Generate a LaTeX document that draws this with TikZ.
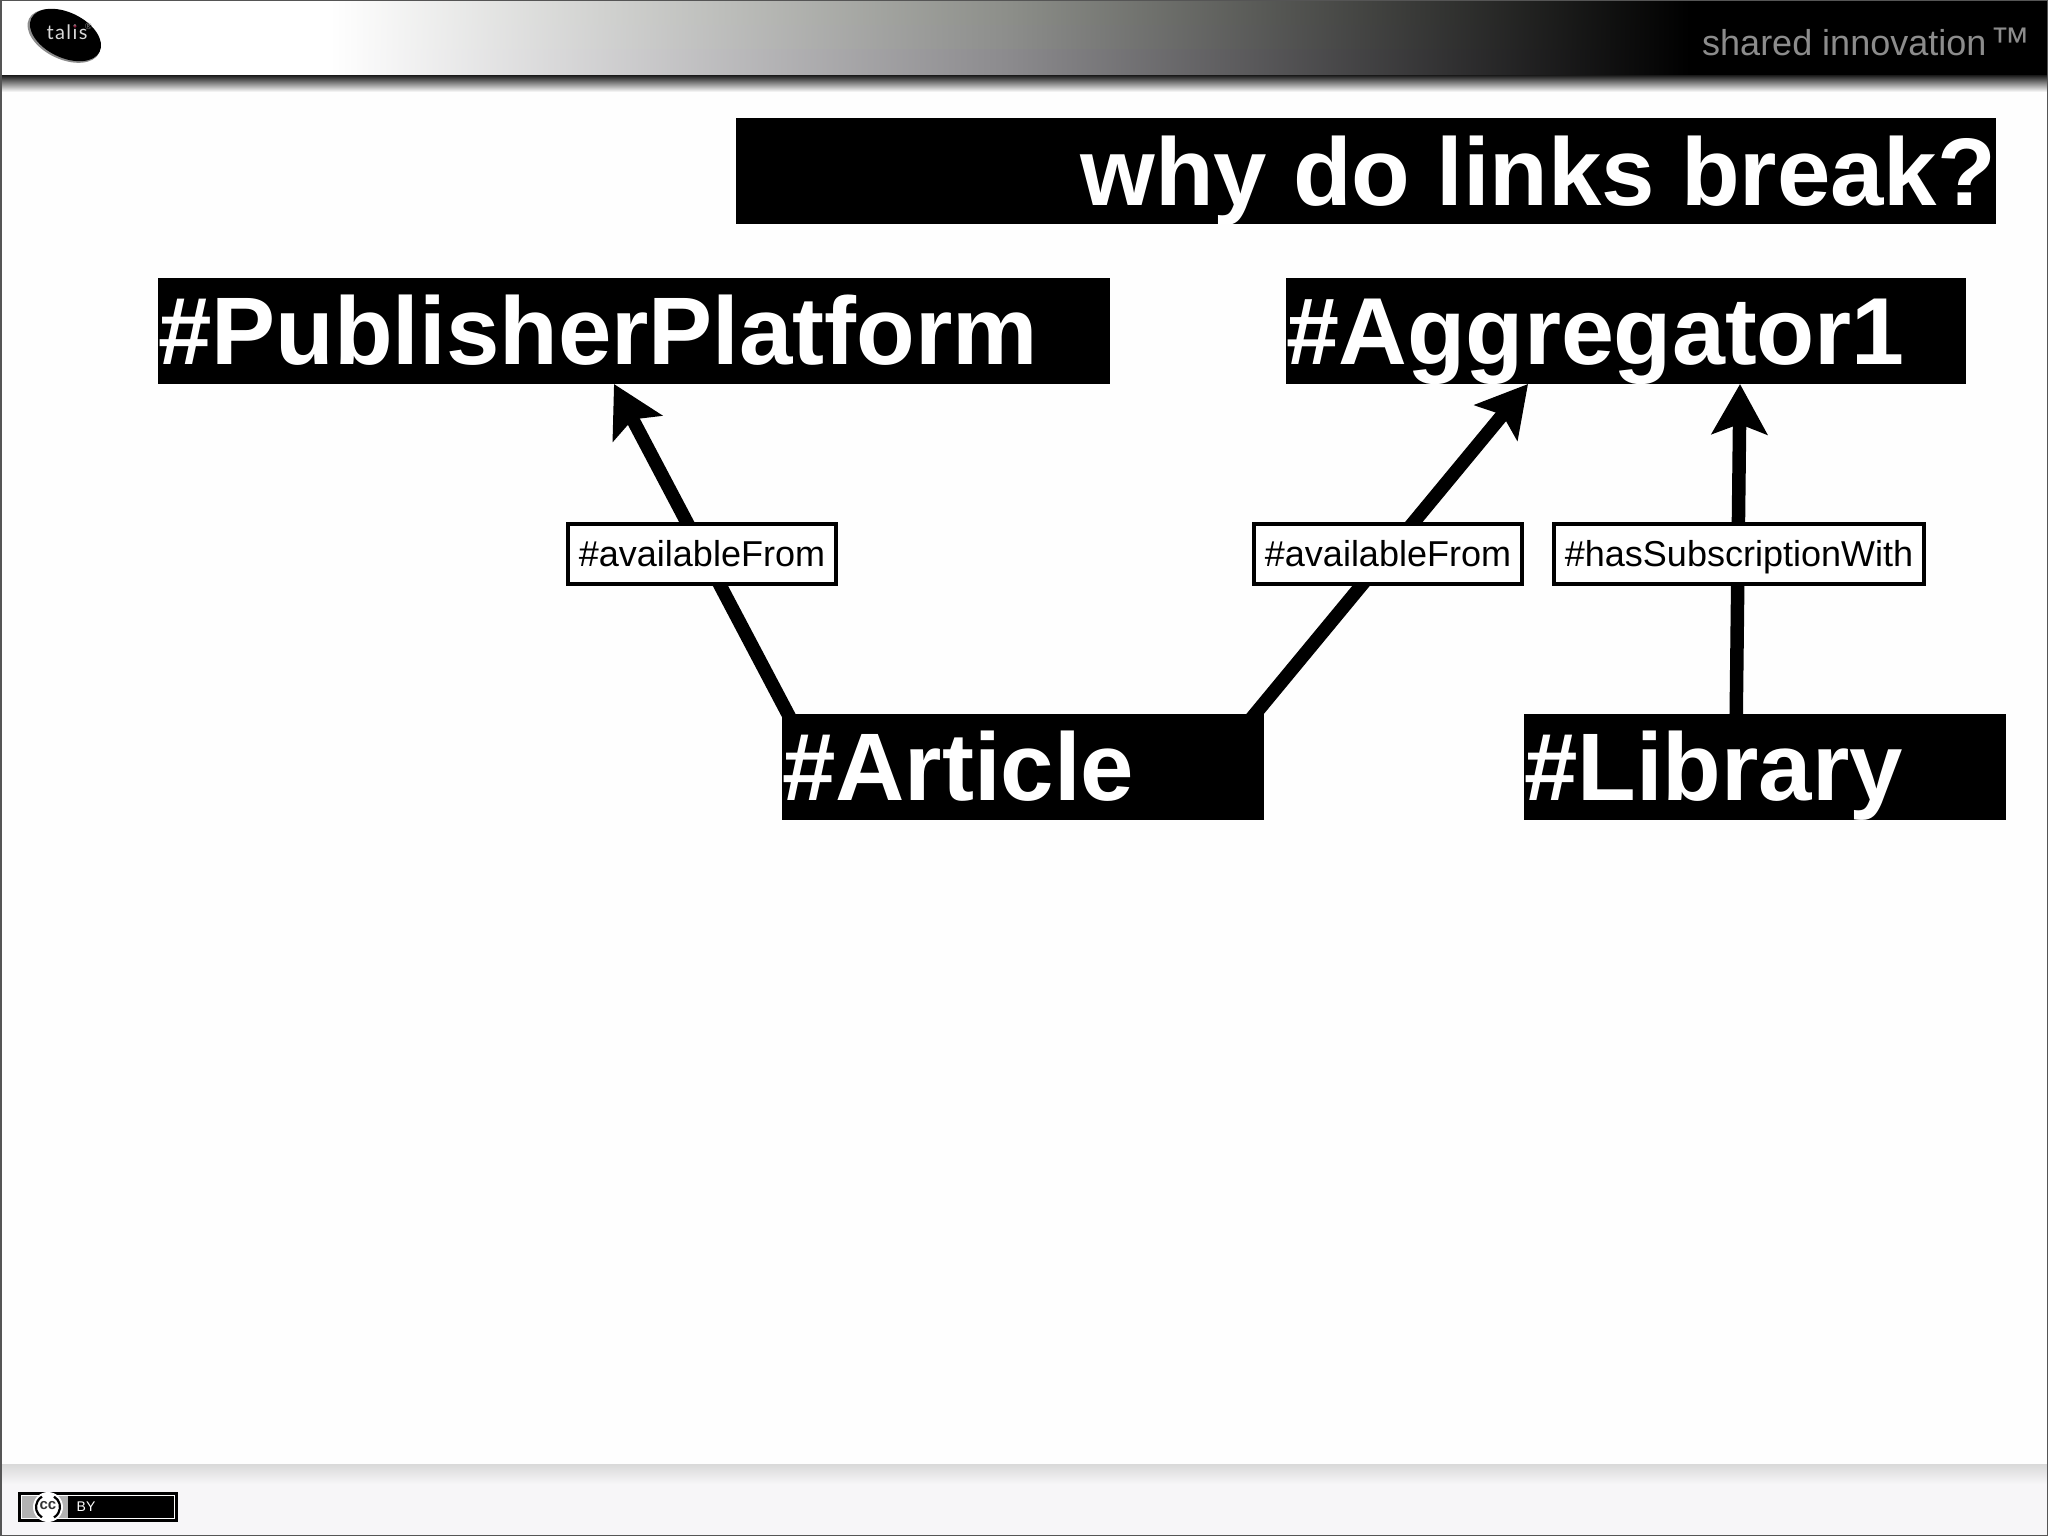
\documentclass[tikz,border=0pt]{standalone}
\usepackage{fontspec}
\setmainfont{Liberation Sans}
\newfontfamily\logofont[LetterSpace=7]{Lato}
\usetikzlibrary{arrows.meta,calc,shadings}
\definecolor{framegray}{HTML}{555555}
\definecolor{slogan}{HTML}{8C8C8C}
\definecolor{pagebg}{HTML}{FEFEFE}
\definecolor{footbg}{HTML}{F7F6F8}
\definecolor{midgreen}{HTML}{8C8E89}
\definecolor{midneutral}{HTML}{8C8D8B}
\definecolor{midviolet}{HTML}{8B8A8D}
\definecolor{idot}{HTML}{8A1C3C}
\pgfdeclarelayer{pagelayer}
\pgfdeclarelayer{linelayer}
\pgfsetlayers{pagelayer,linelayer,main}
\tikzset{
  x=1pt,y=-1pt,
  bar/.style={fill=black,text=white,font=\fontsize{96}{110}\selectfont\bfseries,
    inner xsep=0pt,inner ysep=0pt,outer sep=0pt,minimum height=106pt,
    text depth=4pt,text height=70pt,anchor=north west},
  tag/.style={draw=black,line width=3.6pt,fill=white,text=black,font=\fontsize{36}{42}\selectfont,
    minimum height=60.5pt,inner xsep=0pt,inner ysep=0pt,outer sep=0pt,text depth=6pt,text height=31pt},
  link/.style={line width=13.5pt,draw=black,-{Stealth[length=50pt,width=55pt,inset=10pt]}}
}
\begin{document}
\begin{tikzpicture}
\useasboundingbox (0,0) rectangle (2048,1536);
\begin{pgfonlayer}{pagelayer}
% page
\fill[pagebg] (0,0) rectangle (2048,1536);
% header
\fill[white] (0,0) rectangle (330,76);
\shade[left color=white,right color=black,middle color=midgreen] (330,0) rectangle (1690,26);
\shade[left color=white,right color=black,middle color=midneutral] (330,26) rectangle (1690,50);
\shade[left color=white,right color=black,middle color=midviolet] (330,50) rectangle (1690,76);
\fill[black] (1690,0) rectangle (2048,76);
\shade[top color=black!85,bottom color=white] (0,76) rectangle (2048,92);
% footer
\shade[top color=black!15,bottom color=footbg] (0,1464) rectangle (2048,1484);
\fill[footbg] (0,1484) rectangle (2048,1536);
% frame
\draw[framegray,line width=1.5pt] (0.75,0.75) rectangle (2047.25,1535.25);
% logo
\fill[black!45,rotate around={-26:(64,36)}] (64,36) ellipse [x radius=39,y radius=23];
\fill[black,rotate around={-26:(65.5,35)}] (65.5,35) ellipse [x radius=38,y radius=22.5];
% licence badge
\fill[black] (18,1492) rectangle (178,1522);
\fill[white] (21,1495) rectangle (175,1519);
\fill[black] (64,1496) rectangle (174,1518);
\fill[black!30] (22,1496) rectangle (68,1518);
\fill[white] (48,1507) circle [radius=15];
\draw[black,line width=2.2pt] (48,1507) ++(120:12) arc [start angle=120,end angle=240,radius=12];
\draw[black,line width=2.2pt] (48,1507) ++(-60:12) arc [start angle=-60,end angle=60,radius=12];
\end{pgfonlayer}
\node[text=white!85!black,font=\logofont\fontsize{20}{24}\selectfont,inner sep=0pt] (talis) at (67,32) {talis};
\fill[idot] (75,26.5) circle [radius=1.5];
\node[text=black!45,font=\fontsize{9}{10}\selectfont,inner sep=0pt] (reg) at (88.5,26.5) {®};
\node[text=slogan,font=\fontsize{36}{42}\selectfont,anchor=base west,inner sep=0pt] (shared) at (1702,56) {shared innovation\hspace{4pt}{\fontsize{40}{42}\selectfont ™}};
\node[text=black!80,font=\fontsize{15}{16}\selectfont\bfseries,inner sep=0pt] (cc) at (48,1506) {cc};
\node[text=white,font=\fontsize{14}{16}\selectfont,inner sep=0pt] (by) at (86,1507) {BY};
% title
\node[bar,minimum width=1260pt,text width=1260pt,align=right,text depth=1.5pt] (title) at (736,118) {\spaceskip=26pt why do links break?};
% terms
\node[bar,minimum width=952pt,text width=952pt,align=left] (pub) at (158,278) {\#PublisherPlatform};
\node[bar,minimum width=680pt,text width=680pt,align=left,font=\fontsize{95.2}{110}\selectfont\bfseries] (agg) at (1286,278) {\#Aggregator1};
\node[bar,minimum width=482pt,text width=482pt,align=left] (article) at (782,714) {\#Article};
\node[bar,minimum width=482pt,text width=482pt,align=left] (lib) at (1524,714) {\#Library};
% connectors: their starts run inside the source box, which is painted over them
\begin{pgfonlayer}{linelayer}
\draw[link] ($(article.north west)+(16.5,20)$) -- ($(pub.south west)+(456,0)$);
\draw[link] ($(article.north east)+(-25.5,20)$) -- ($(agg.south west)+(242,0)$);
\draw[link] ($(lib.north west)+(212,20)$) -- ($(agg.south west)+(454,0)$);
\end{pgfonlayer}
% labels
\node[tag,minimum width=268.5pt] (l1) at (702,554) {\#availableFrom};
\node[tag,minimum width=268.5pt] (l2) at (1388,554) {\#availableFrom};
\node[tag,minimum width=370.5pt] (l3) at (1739,554) {\#hasSubscriptionWith};
\end{tikzpicture}
\end{document}
